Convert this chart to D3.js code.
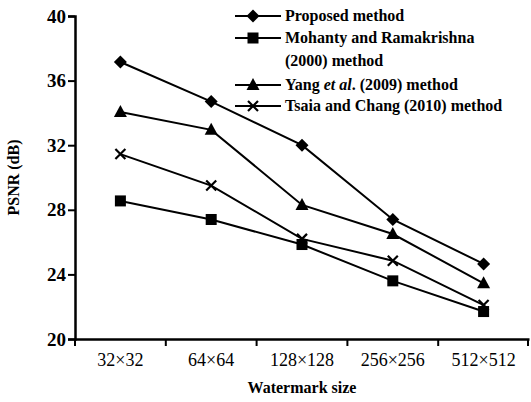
<!DOCTYPE html>
<html>
<head>
<meta charset="utf-8">
<script src="https://d3js.org/d3.v7.min.js"></script>
<style>
  body { margin: 0; background: #fff; font-family: "Liberation Serif", serif; }
  svg text { font-family: "Liberation Serif", serif; }
</style>
</head>
<body>
<svg id="chart" width="531" height="402" font-family="Liberation Serif"></svg>
<script>
// Data
const sizes = ["32\u00D732", "64\u00D764", "128\u00D7128", "256\u00D7256", "512\u00D7512"];
const proposed = [37.15, 34.7, 32.0, 27.4, 24.65];
const mohanty = [28.55, 27.4, 25.85, 23.6, 21.7];
const yang = [34.05, 32.95, 28.3, 26.5, 23.45];
const tsaia = [31.45, 29.5, 26.2, 24.85, 22.1];
const yTicks = [20, 24, 28, 32, 36, 40];

const series = [
  { name: [["Proposed method"]], values: proposed, marker: "diamond" },
  { name: [["Mohanty and Ramakrishna"], ["(2000) method"]], values: mohanty, marker: "square" },
  { name: [["Yang "], ["et al", "italic"], [". (2009) method"]], values: yang, marker: "triangle", inline: true },
  { name: [["Tsaia and Chang (2010) method"]], values: tsaia, marker: "cross" }
];

const FONT = "Liberation Serif";
const W = 531, H = 402;
const margin = { top: 16, right: 2, bottom: 63, left: 75 };

const svg = d3.select("#chart");

const x = d3.scaleBand().domain(sizes)
  .range([margin.left, W - margin.right]);
const y = d3.scaleLinear().domain([20, 40])
  .range([H - margin.bottom, margin.top]);

// Axes
const xAxis = svg.append("g")
  .attr("transform", `translate(0,${H - margin.bottom})`)
  .call(d3.axisBottom(x).tickSize(0).tickPadding(14));
xAxis.attr("font-family", FONT).attr("font-size", 18);
xAxis.select(".domain").attr("stroke-width", 2.5);
// tick marks at band edges
xAxis.selectAll("line.edge")
  .data(sizes.map(s => x(s)).concat([x.range()[1] - 1]))
  .enter().append("line")
  .attr("class", "edge")
  .attr("x1", d => d).attr("x2", d => d)
  .attr("y1", 0).attr("y2", 7)
  .attr("stroke", "#000").attr("stroke-width", 2);

const yAxis = svg.append("g")
  .attr("transform", `translate(${margin.left},0)`)
  .call(d3.axisLeft(y).tickValues(yTicks).tickSize(7).tickPadding(2));
yAxis.attr("font-family", FONT).attr("font-size", 19).attr("font-weight", "bold");
yAxis.selectAll(".tick line").attr("stroke-width", 2);
yAxis.select(".domain").attr("stroke-width", 2.5);

// Axis titles
svg.append("text")
  .attr("transform", `translate(19,${(y(20) + y(40)) / 2}) rotate(-90)`)
  .attr("text-anchor", "middle")
  .attr("font-size", 16).attr("font-weight", "bold")
  .text("PSNR (dB)");

svg.append("text")
  .attr("x", (x.range()[0] + x.range()[1]) / 2)
  .attr("y", 393)
  .attr("text-anchor", "middle")
  .attr("font-size", 16).attr("font-weight", "bold")
  .text("Watermark size");

// Markers
function drawMarker(g, type, cx, cy) {
  if (type === "diamond") {
    g.append("path").attr("d", `M${cx},${cy - 6.5}L${cx + 6.5},${cy}L${cx},${cy + 6.5}L${cx - 6.5},${cy}Z`)
      .attr("fill", "#000");
  } else if (type === "square") {
    g.append("rect").attr("x", cx - 5.5).attr("y", cy - 5.5).attr("width", 11).attr("height", 11)
      .attr("fill", "#000");
  } else if (type === "triangle") {
    g.append("path").attr("d", `M${cx},${cy - 7}L${cx + 6.5},${cy + 5}L${cx - 6.5},${cy + 5}Z`)
      .attr("fill", "#000");
  } else {
    g.append("path").attr("d", `M${cx - 5},${cy - 5}L${cx + 5},${cy + 5}M${cx - 5},${cy + 5}L${cx + 5},${cy - 5}`)
      .attr("stroke", "#000").attr("stroke-width", 2.2).attr("fill", "none");
  }
}

const line = d3.line()
  .x((d, i) => x(sizes[i]) + x.bandwidth() / 2)
  .y(d => y(d));

series.forEach(s => {
  svg.append("path")
    .datum(s.values)
    .attr("d", line)
    .attr("fill", "none")
    .attr("stroke", "#000")
    .attr("stroke-width", 2);
  const g = svg.append("g");
  s.values.forEach((v, i) => drawMarker(g, s.marker, x(sizes[i]) + x.bandwidth() / 2, y(v)));
});

// Legend
const legendRows = [16, 38, 85, 106];
const legend = svg.append("g").attr("font-size", 16).attr("font-weight", "bold");
series.forEach((s, i) => {
  const ly = legendRows[i];
  legend.append("line")
    .attr("x1", 235).attr("x2", 281).attr("y1", ly).attr("y2", ly)
    .attr("stroke", "#000").attr("stroke-width", 2);
  drawMarker(legend, s.marker, 253, ly);
  if (s.inline) {
    const t = legend.append("text").attr("x", 285).attr("y", ly + 5);
    s.name.forEach(part => {
      t.append("tspan").attr("font-style", part[1] || "normal").text(part[0]);
    });
  } else {
    s.name.forEach((part, j) => {
      legend.append("text")
        .attr("x", 285).attr("y", ly + 5 + j * 23)
        .text(part[0]);
    });
  }
});
</script>
</body>
</html>
